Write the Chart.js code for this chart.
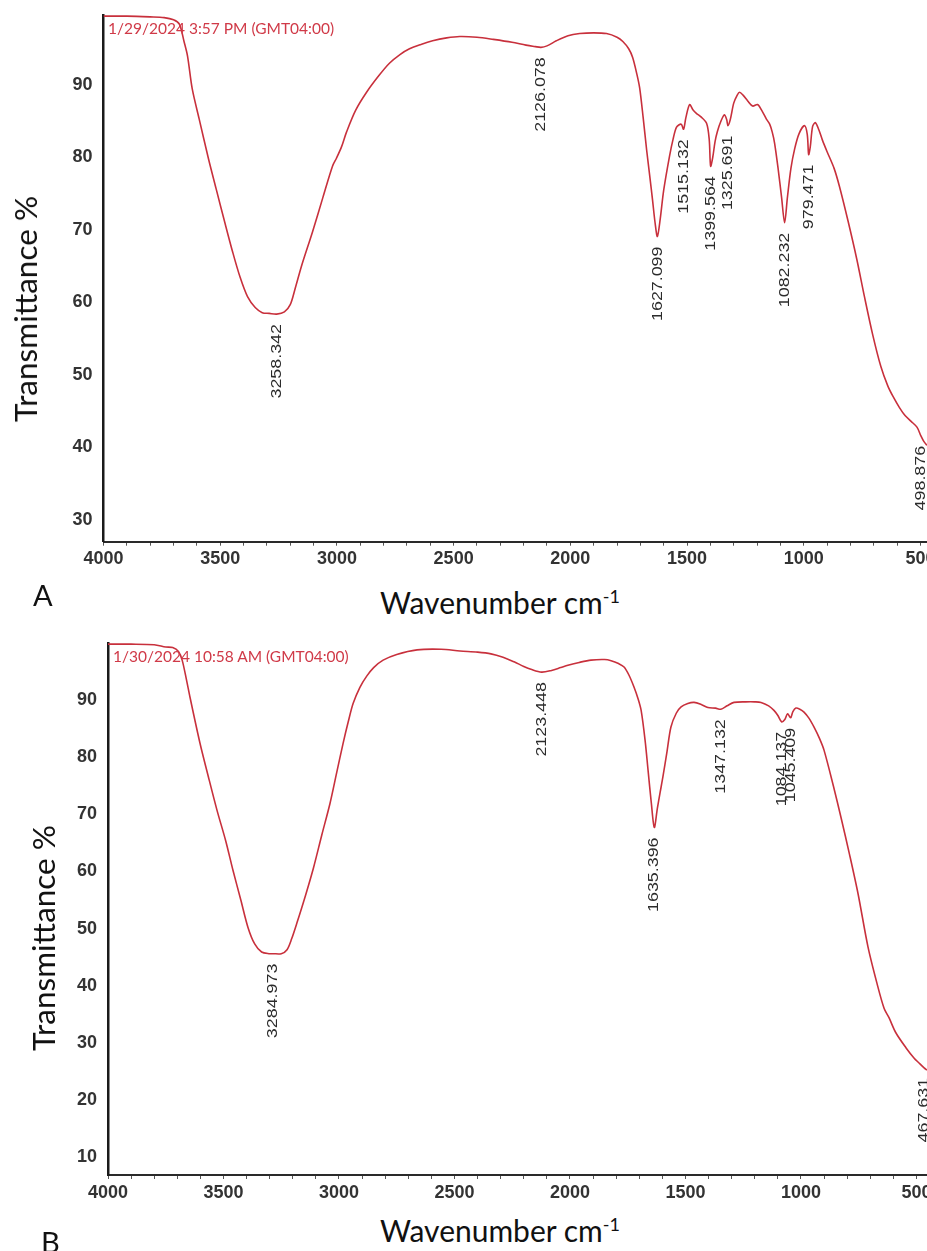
<!DOCTYPE html>
<html>
<head>
<meta charset="utf-8">
<script src="https://cdn.jsdelivr.net/npm/chart.js@4.4.1/dist/chart.umd.min.js"></script>
<style>
  body { margin:0; background:#fff; }
  #wrap { position:relative; width:927px; height:1251px; overflow:hidden; background:#fff; }
  canvas { position:absolute; left:0; }
  .txt { position:absolute; white-space:nowrap; font-family:Lato, 'Open Sans', sans-serif; color:#111; }
  .ytitle { transform:translate(-50%,-50%) rotate(-90deg); font-size:31.5px; }
  .xtitle { transform:translate(-50%,0); font-size:30px; }
  .stamp { font-family:Lato, sans-serif; font-size:15.5px; color:#d03a48; }
</style>
</head>
<body>
<div id="wrap">
  <canvas id="chartA" width="927" height="575" style="top:0"></canvas>
  <canvas id="chartB" width="927" height="590" style="top:620px"></canvas>

  <div class="txt stamp" style="left:108px; top:19px;">1/29/2024 3:57 PM (GMT04:00)</div>
  <div class="txt stamp" style="left:113px; top:647px;">1/30/2024 10:58 AM (GMT04:00)</div>

  <div class="txt ytitle" style="left:25px; top:309px;">Transmittance %</div>
  <div class="txt ytitle" style="left:43px; top:938px;">Transmittance %</div>

  <div class="txt xtitle" style="left:500px; top:584px;">Wavenumber cm<sup style="font-size:18px">-1</sup></div>
  <div class="txt xtitle" style="left:500px; top:1212px;">Wavenumber cm<sup style="font-size:18px">-1</sup></div>

  <div class="txt" style="left:33px; top:577px; font-size:29px;">A</div>
  <div class="txt" style="left:41px; top:1224px; font-size:29px;">B</div>
</div>

<script>
// ---- 스펙트럼 A ----
const wnA = [4000,3900,3800,3740,3700,3675,3655,3640,3620,3590,3550,3516,3480,3447,3415,3383,3350,3320,3290,3258,3225,3200,3180,3150,3104,3060,3019,3002,2980,2959,2920,2873,2820,2775,2730,2689,2640,2590,2530,2474,2400,2330,2250,2190,2150,2126,2100,2060,2010,1960,1900,1845,1800,1775,1750,1733,1715,1703,1688,1673,1660,1648,1637,1627,1615,1600,1575,1560,1545,1525,1515,1505,1489,1475,1460,1440,1416,1405,1399,1390,1380,1370,1355,1340,1330,1325,1315,1300,1285,1275,1260,1240,1219,1198,1180,1160,1146,1135,1125,1110,1095,1082,1070,1055,1039,1020,997,985,979,972,962,950,935,920,900,870,847,810,773,740,705,670,640,617,590,566,540,515,498,485,472];
const tA  = [99.5,99.5,99.4,99.3,99.0,98.4,96.0,94.0,89.5,85.3,79.8,75.5,71.0,67.0,63.5,60.8,59.3,58.6,58.5,58.4,58.7,59.7,61.8,65.2,69.8,74.5,78.8,79.9,81.5,83.5,86.5,89.0,91.3,93.0,94.2,95.0,95.6,96.1,96.5,96.7,96.6,96.3,95.9,95.5,95.3,95.2,95.4,96.1,96.8,97.1,97.2,97.1,96.6,96.0,95.0,93.8,91.5,89.6,85.5,81.0,77.5,74.2,71.0,69.1,71.5,75.5,80.2,82.5,84.2,84.6,83.9,85.5,87.3,86.6,86.1,85.6,84.7,82.5,78.8,80.0,82.2,83.6,85.0,85.9,85.2,84.4,85.2,87.5,88.6,89.0,88.6,87.8,87.1,87.3,86.5,85.3,84.6,83.5,82.0,78.5,74.5,71.0,74.5,78.5,81.2,83.3,84.4,83.2,80.4,81.5,84.3,84.8,83.8,82.4,80.8,78.5,76.0,71.2,66.0,60.8,55.6,51.2,48.5,47.0,45.5,44.4,43.6,42.8,41.6,40.8,40.3];
const peakWnA = [3258.342, 2126.078, 1627.099, 1515.132, 1399.564, 1325.691, 1082.232, 979.471, 498.876];
const peakTA  = [58.4, 95.2, 69.1, 83.9, 78.8, 84.4, 71.0, 80.4, 41.6];
const yTicksA = [30, 40, 50, 60, 70, 80, 90];

// ---- 스펙트럼 B ----
const wnB = [4000,3900,3800,3750,3720,3695,3679,3660,3645,3602,3565,3528,3490,3459,3425,3394,3365,3335,3300,3285,3250,3225,3205,3182,3145,3110,3075,3039,3010,2983,2960,2939,2910,2880,2850,2809,2750,2662,2558,2476,2400,2342,2290,2242,2200,2169,2123,2080,2040,2009,1960,1909,1850,1822,1790,1766,1745,1723,1705,1692,1675,1662,1648,1635,1622,1610,1598,1580,1563,1540,1519,1490,1463,1430,1403,1370,1347,1320,1290,1240,1200,1173,1140,1117,1100,1084,1070,1058,1045,1035,1022,1005,987,965,944,920,900,860,827,790,753,710,671,640,619,590,545,510,490,467,455];
const tB  = [99.8,99.8,99.7,99.3,99.2,98.5,97.0,93.5,90.5,82.5,76.5,70.7,65.3,60.2,55.0,50.2,47.3,45.9,45.6,45.6,45.6,46.3,48.2,51.0,55.8,60.7,66.3,71.9,77.3,82.3,86.2,89.4,92.2,94.2,95.7,97.0,98.0,98.8,98.9,98.6,98.4,98.1,97.5,96.7,95.9,95.4,94.9,95.2,95.7,96.1,96.6,97.0,97.1,96.9,96.4,95.8,94.4,92.3,90.2,88.2,83.0,77.7,72.0,67.7,71.0,73.8,76.5,81.0,85.3,87.7,88.8,89.4,89.6,89.2,88.7,88.6,88.4,89.0,89.6,89.7,89.7,89.6,89.0,88.2,87.3,86.2,86.6,87.6,86.9,88.0,88.6,88.4,87.9,86.8,85.3,83.3,81.2,75.0,69.5,63.0,56.1,46.8,40.4,36.0,34.4,31.8,29.1,27.3,26.5,25.6,25.2];
const peakWnB = [3284.973, 2123.448, 1635.396, 1347.132, 1084.137, 1045.409, 467.631];
const peakTB  = [45.6, 94.9, 67.7, 88.4, 86.2, 86.9, 25.6];
const yTicksB = [10, 20, 30, 40, 50, 60, 70, 80, 90];

// x축 눈금 (100 간격, 라벨은 500마다)
const xTicks = [];
for (let v = 4000; v >= 500; v -= 100) xTicks.push(v);

const tickFont = { family: "'Liberation Sans Narrow', 'Liberation Sans', sans-serif", size: 18, weight: 'bold' };

// 피크 라벨 (세로 글자)
const peakLabels = {
	id: 'peakLabels',
	afterDatasetsDraw(chart, args, opts) {
		const ctx = chart.ctx;
		const xs = chart.scales.x, ys = chart.scales.y;
		ctx.save();
		ctx.fillStyle = '#2b2b2b';
		ctx.font = "15px 'Liberation Sans', Arial, sans-serif";
		ctx.textAlign = 'right';
		ctx.textBaseline = 'middle';
		opts.wn.forEach((w, i) => {
			const x = xs.getPixelForValue(w);
			const y = ys.getPixelForValue(opts.t[i]) + 10;
			ctx.save();
			ctx.translate(x, y);
			ctx.rotate(-Math.PI / 2);
			ctx.scale(1.19, 1);
			ctx.fillText(w.toFixed(3), 0, 0);
			ctx.restore();
		});
		ctx.restore();
	}
};

function makeChart(id, wn, t, pWn, pT, xMin, yMin, yMax, yTicks, topPad, xHeight, yWidth) {
	const pts = wn.map((w, i) => ({ x: w, y: t[i] }));
	return new Chart(document.getElementById(id), {
		type: 'line',
		data: {
			datasets: [{
				data: pts,
				borderColor: '#c8303c',
				borderWidth: 1.6,
				pointRadius: 0,
				fill: false,
				tension: 0.3
			}]
		},
		options: {
			responsive: false,
			animation: false,
			layout: { padding: { top: topPad, left: 0, right: 0, bottom: 0 } },
			plugins: {
				legend: { display: false },
				tooltip: { enabled: false },
				peakLabels: { wn: pWn, t: pT }
			},
			scales: {
				x: {
					type: 'linear',
					reverse: true,
					min: xMin,
					max: 4000,
					afterBuildTicks: (s) => { s.ticks = xTicks.map(v => ({ value: v })); },
					afterFit: (s) => { s.height = xHeight; s.paddingLeft = 0; s.paddingRight = 0; },
					border: { display: true, color: '#2a2a2a', width: 2 },
					grid: { drawOnChartArea: false, drawTicks: true, tickLength: 4, color: '#555' },
					ticks: {
						autoSkip: false,
						maxRotation: 0,
						padding: 3,
						color: '#333',
						font: tickFont,
						callback: (v) => (v % 500 === 0 ? String(v) : '')
					}
				},
				y: {
					min: yMin,
					max: yMax,
					afterBuildTicks: (s) => { s.ticks = yTicks.map(v => ({ value: v })); },
					afterFit: (s) => { s.width = yWidth; s.paddingTop = 0; s.paddingBottom = 0; },
					border: { display: true, color: '#1a1a1a', width: 2.5 },
					grid: { display: false, drawTicks: false },
					ticks: { padding: 11, color: '#333', font: tickFont }
				}
			}
		},
		plugins: [peakLabels]
	});
}

makeChart('chartA', wnA, tA, peakWnA, peakTA, 472, 27.0, 99.66, yTicksA, 15, 33.3, 103.5);
makeChart('chartB', wnB, tB, peakWnB, peakTB, 454.5, 6.85, 100, yTicksB, 23, 35, 108);
</script>
</body>
</html>
